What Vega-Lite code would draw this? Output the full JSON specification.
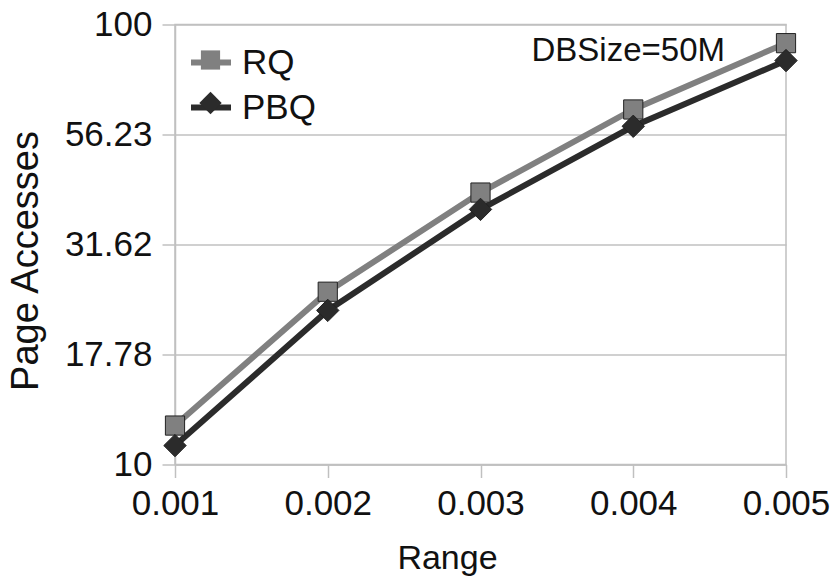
{
  "$schema": "https://vega.github.io/schema/vega-lite/v6.json",
  "width": 611,
  "height": 440,
  "autosize": {"type": "none"},
  "padding": {"left": 175, "top": 24.5, "right": 50, "bottom": 116.5},
  "background": "white",
  "config": {
    "font": "Liberation Sans",
    "view": {"stroke": "#c0c0c0", "strokeWidth": 1.5},
    "axis": {
      "labelFont": "Liberation Sans",
      "titleFont": "Liberation Sans",
      "labelColor": "#111111",
      "titleColor": "#111111",
      "titleFontWeight": "normal",
      "domainColor": "#c0c0c0",
      "tickColor": "#c0c0c0",
      "gridColor": "#c0c0c0",
      "domainWidth": 1.5,
      "tickWidth": 1.5,
      "gridWidth": 1.5,
      "tickSize": 13
    },
    "legend": {
      "labelFont": "Liberation Sans",
      "labelColor": "#111111"
    }
  },
  "data": {
    "values": [
      {"range": 0.001, "series": "RQ", "pages": 12.26},
      {"range": 0.002, "series": "RQ", "pages": 24.7},
      {"range": 0.003, "series": "RQ", "pages": 41.5},
      {"range": 0.004, "series": "RQ", "pages": 64.1},
      {"range": 0.005, "series": "RQ", "pages": 90.7},
      {"range": 0.001, "series": "PBQ", "pages": 11.04},
      {"range": 0.002, "series": "PBQ", "pages": 22.4},
      {"range": 0.003, "series": "PBQ", "pages": 38.0},
      {"range": 0.004, "series": "PBQ", "pages": 58.7},
      {"range": 0.005, "series": "PBQ", "pages": 82.8}
    ]
  },
  "title": {
    "text": "DBSize=50M",
    "orient": "top",
    "anchor": "end",
    "frame": "group",
    "font": "Liberation Sans",
    "fontSize": 33,
    "fontWeight": "normal",
    "color": "#111111",
    "baseline": "alphabetic",
    "offset": 0,
    "dx": -61,
    "dy": 86
  },
  "encoding": {
    "x": {
      "field": "range",
      "type": "quantitative",
      "scale": {"domain": [0.001, 0.005], "nice": false, "zero": false},
      "axis": {
        "values": [0.001, 0.002, 0.003, 0.004, 0.005],
        "format": ".3f",
        "grid": false,
        "labelFontSize": 35,
        "labelPadding": 9,
        "title": "Range",
        "titleFontSize": 34,
        "titlePadding": 20,
        "titleX": 272,
        "labelFlush": false
      }
    },
    "y": {
      "field": "pages",
      "type": "quantitative",
      "scale": {"type": "log", "domain": [10, 100], "nice": false},
      "axis": {
        "values": [10, 17.78, 31.62, 56.23, 100],
        "format": ".4~r",
        "grid": true,
        "labelFontSize": 35,
        "labelPadding": 10,
        "title": "Page Accesses",
        "titleFontSize": 38,
        "titlePadding": 19,
        "titleY": 236
      }
    }
  },
  "layer": [
    {
      "mark": {"type": "line", "strokeWidth": 6},
      "encoding": {
        "stroke": {
          "field": "series",
          "type": "nominal",
          "scale": {"domain": ["RQ", "PBQ"], "range": ["#808080", "#2b2b2b"]},
          "legend": {
            "title": null,
            "orient": "none",
            "legendX": 13,
            "legendY": 15,
            "padding": 0,
            "symbolType": "stroke",
            "symbolSize": 1600,
            "symbolStrokeWidth": 6,
            "labelFontSize": 35,
            "labelOffset": 8,
            "rowPadding": 4,
            "zindex": 1
          }
        }
      }
    },
    {
      "mark": {"type": "point", "filled": true, "size": 1600, "opacity": 1, "stroke": "#222222", "strokeWidth": 1},
      "encoding": {
        "fill": {
          "field": "series",
          "type": "nominal",
          "scale": {"domain": ["RQ", "PBQ"], "range": ["#808080", "#2b2b2b"]},
          "legend": null
        },
        "shape": {
          "field": "series",
          "type": "nominal",
          "scale": {"domain": ["RQ", "PBQ"], "range": ["M-0.48,-0.48H0.48V0.48H-0.48Z", "M0,-0.56L0.56,0L0,0.56L-0.56,0Z"]},
          "legend": {
            "title": null,
            "orient": "top-left",
            "offset": 15,
            "padding": 0,
            "symbolSize": 1600,
            "symbolStrokeColor": "#222222",
            "symbolStrokeWidth": 1,
            "symbolOpacity": 1,
            "labelFontSize": 35,
            "labelOffset": 8,
            "labelExpr": "''",
            "rowPadding": 4,
            "zindex": 2,
            "encode": {
              "symbols": {
                "update": {
                  "fill": {"scale": "fill", "field": "value"},
                  "stroke": {"value": "#222222"},
                  "strokeWidth": {"value": 1},
                  "opacity": {"value": 1}
                }
              }
            }
          }
        }
      }
    }
  ]
}
